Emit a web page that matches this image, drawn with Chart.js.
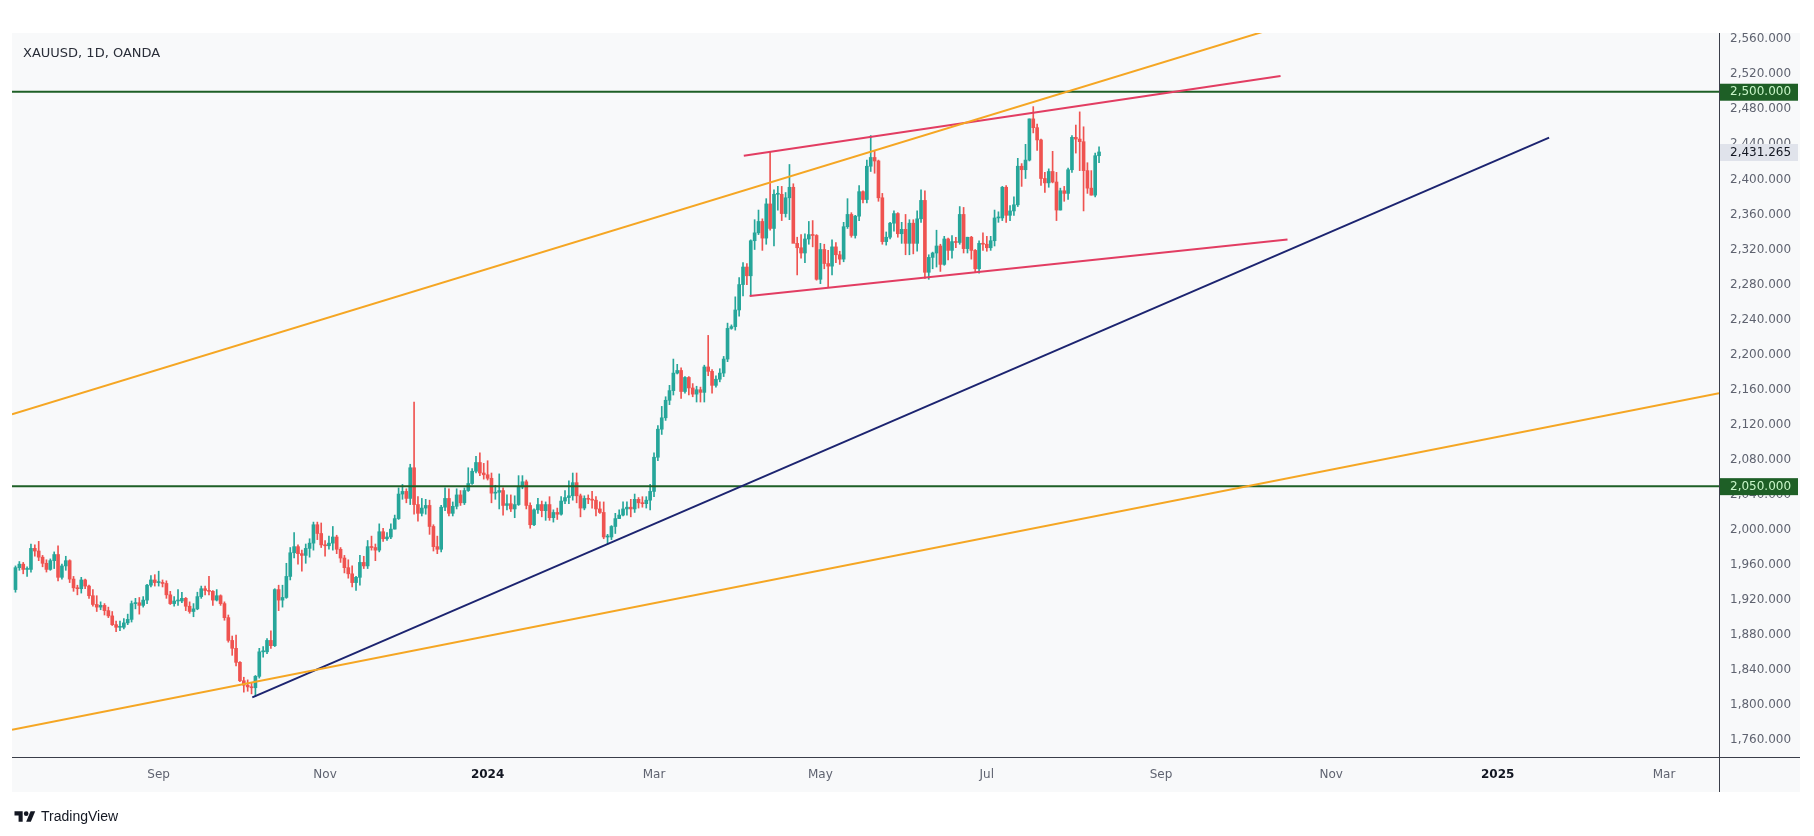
<!DOCTYPE html>
<html>
<head>
<meta charset="utf-8">
<title>XAUUSD 1D</title>
<script src="https://cdn.jsdelivr.net/npm/chart.js@4.4.1/dist/chart.umd.min.js"></script>
<style>
  html, body { margin: 0; padding: 0; background: #ffffff; }
  #page { position: relative; width: 1814px; height: 836px; overflow: hidden; }
  #panel { position: absolute; left: 12px; top: 33px; width: 1788px; height: 759px; background: #f8f9fa; }
  #chart { position: absolute; left: 0; top: 0; }
  #title { position: absolute; left: 23px; top: 45px; font: 13px 'DejaVu Sans', sans-serif; color: #2a2e39; line-height: 16px; }
  #logo { position: absolute; left: 14px; top: 806px; height: 20px; display: flex; align-items: center; font: 14px 'Liberation Sans', sans-serif; color: #131722; }
  #logo svg { margin-right: 5px; }
</style>
</head>
<body>
<div id="page">
  <div id="panel"></div>
  <canvas id="chart" width="1814" height="836"></canvas>
  <div id="title">XAUUSD, 1D, OANDA</div>
  <div id="logo">
    <svg width="22" height="14" viewBox="0 0 36 24"><path d="M14 22H7V11H0V4h14v18z" fill="#131722"/><circle cx="20" cy="8" r="4" fill="#131722"/><path d="M28 22h-8l7.5-18h8L28 22z" fill="#131722"/></svg>
    <span>TradingView</span>
  </div>
</div>
<script>
(function() {
    'use strict';

    // Daily bars, one per trading day, first bar = 12 Jul 2023, last = 9 Aug 2024
    const opens = [
        1932,1957,1961,1955,1955,1979,1976,1969,1962,1955,1965,1972,1946,1959,
        1965,1944,1934,1933,1943,1936,1925,1915,1912,1914,1908,1902,1892,1889,1889,1894,1898,1916,1917,1914,1920,1937,1943,
        1940,1940,1939,1926,1916,1919,1919,1922,1913,1907,1910,1924,1933,1931,1930,1920,1925,1916,1900,1874,1865,
        1849,1828,1823,1821,1820,1833,1861,1861,1874,1868,1932,1920,1923,1947,1974,1981,1973,1971,1979,1985,2006,1996,
        1983,1982,1985,1992,1978,1968,1957,1950,1940,1946,1963,1959,1981,1980,1977,1998,1990,1992,2001,2013,2041,2044,
        2036,2071,2029,2019,2025,2028,2004,1981,1978,2026,2036,2019,2027,2040,2031,2045,2053,2067,2077,2065,
        2063,2059,2042,2043,2045,2028,2030,2024,2029,2049,2055,2028,2006,2023,2029,2022,2029,2014,2020,2018,2033,2037,
        2039,2054,2039,2025,2036,2035,2034,2024,2020,1992,1992,2004,2013,2017,2024,2026,2024,2035,2031,2030,2034,
        2044,2083,2115,2128,2148,2159,2179,2182,2158,2174,2162,2155,2160,2157,2186,2181,2165,2172,2179,2195,2230,
        2232,2251,2280,2300,2290,2330,2339,2352,2333,2372,2344,2383,2383,2361,2379,2391,2327,2322,2316,2332,2337,2336,
        2286,2320,2304,2301,2323,2314,2309,2346,2360,2336,2358,2386,2377,2415,2425,2421,2379,2329,2334,2350,2361,2338,2343,
        2327,2350,2327,2355,2376,2294,2311,2316,2324,2303,2332,2319,2329,2328,2360,2321,2334,2319,2298,2327,
        2326,2322,2330,2356,2356,2391,2359,2364,2371,2415,2411,2422,2469,2459,2445,2401,2396,2409,2397,2365,2387,2384,2411,
        2448,2446,2443,2410,2390,2382,2427
    ];
    const highs = [
        1959,1964,1963,1958,1984,1983,1987,1971,1966,1967,1975,1982,1961,1970,
        1966,1947,1937,1946,1944,1937,1932,1925,1918,1916,1912,1907,1896,1896,1899,1904,1919,1922,1923,1924,1938,1948,1949,
        1953,1943,1942,1930,1924,1932,1929,1923,1918,1916,1929,1936,1936,1947,1931,1932,1926,1918,1903,1879,1880,
        1850,1832,1829,1826,1834,1865,1867,1876,1885,1933,1937,1937,1962,1980,1997,1983,1977,1984,1990,2009,2009,2008,
        1988,1993,2004,1994,1980,1971,1966,1959,1947,1971,1970,1988,1993,1984,2007,2002,1997,2007,2017,2048,2052,2047,
        2075,2146,2038,2036,2035,2034,2006,1993,2028,2048,2047,2032,2047,2045,2048,2071,2070,2084,2088,2076,
        2079,2065,2051,2064,2048,2040,2040,2039,2062,2062,2057,2031,2024,2036,2033,2032,2038,2023,2025,2038,2045,2056,
        2065,2065,2041,2039,2040,2044,2038,2032,2032,1995,2005,2019,2023,2032,2032,2035,2041,2037,2038,2038,2052,
        2088,2119,2141,2152,2165,2195,2189,2185,2175,2175,2167,2164,2163,2188,2222,2183,2176,2184,2198,2236,2234,
        2266,2288,2305,2304,2331,2354,2365,2355,2378,2431,2388,2392,2392,2385,2417,2395,2334,2337,2338,2352,2353,2337,
        2327,2326,2319,2331,2328,2318,2351,2378,2362,2359,2393,2387,2422,2450,2432,2422,2384,2340,2351,2364,2362,2351,2360,
        2354,2354,2364,2388,2387,2314,2317,2342,2326,2335,2333,2336,2334,2369,2368,2334,2335,2320,2330,2339,
        2335,2335,2365,2363,2392,2393,2370,2380,2424,2418,2440,2469,2483,2463,2446,2408,2412,2432,2408,2390,2392,2413,2450,
        2462,2477,2460,2419,2410,2430,2437
    ];
    const lows = [
        1929,1954,1950,1947,1952,1970,1965,1958,1952,1954,1956,1942,1944,1954,
        1940,1930,1926,1928,1933,1922,1913,1907,1909,1903,1900,1891,1884,1885,1887,1892,1895,1910,1904,1912,1916,1935,1936,
        1936,1935,1922,1915,1913,1914,1917,1908,1905,1901,1909,1922,1926,1926,1914,1919,1914,1897,1872,1857,1845,
        1827,1815,1816,1813,1810,1831,1855,1859,1865,1867,1908,1912,1922,1943,1968,1961,1953,1962,1969,1977,1989,1980,
        1970,1978,1977,1973,1963,1951,1945,1935,1931,1937,1956,1956,1977,1965,1975,1987,1988,1990,2001,2012,2035,2031,
        2029,2018,2010,2016,2018,1995,1976,1973,1975,2022,2016,2016,2024,2028,2029,2044,2052,2065,2062,2058,
        2057,2031,2035,2024,2017,2023,2021,2014,2028,2047,2024,2002,2005,2019,2015,2011,2011,2009,2012,2017,2030,2030,
        2034,2031,2015,2023,2030,2025,2016,2019,1990,1984,1989,1996,2013,2016,2017,2015,2020,2025,2026,2025,2023,
        2038,2079,2109,2125,2143,2154,2178,2150,2156,2154,2152,2146,2146,2146,2176,2156,2163,2169,2175,2192,2229,
        2228,2244,2267,2280,2267,2320,2337,2319,2326,2342,2324,2365,2353,2357,2354,2328,2291,2310,2305,2326,2323,2285,
        2281,2298,2277,2291,2305,2303,2306,2344,2334,2333,2353,2373,2373,2409,2407,2375,2326,2325,2332,2341,2334,2327,2314,
        2314,2315,2318,2351,2287,2286,2298,2300,2295,2302,2308,2310,2322,2326,2316,2316,2309,2294,2293,2319,
        2318,2319,2324,2351,2353,2351,2353,2359,2369,2392,2401,2421,2453,2433,2393,2385,2391,2396,2353,2365,2375,2377,2408,
        2430,2410,2364,2384,2382,2380,2419
    ];
    const closes = [
        1957,1961,1955,1955,1979,1976,1969,1962,1955,1965,1972,1946,1959,1965,
        1944,1934,1933,1943,1936,1925,1915,1912,1914,1908,1902,1892,1889,1889,1894,1898,1916,1917,1914,1920,1937,1943,1940,
        1940,1939,1926,1916,1919,1919,1922,1913,1907,1910,1924,1933,1931,1930,1920,1925,1916,1900,1874,1865,1849,
        1828,1823,1821,1820,1833,1861,1861,1874,1868,1932,1920,1923,1947,1974,1981,1973,1971,1979,1985,2006,1996,1983,
        1982,1985,1992,1978,1968,1957,1950,1940,1946,1963,1959,1981,1980,1977,1998,1990,1992,2001,2013,2041,2044,2036,
        2071,2029,2019,2025,2028,2004,1981,1978,2026,2036,2019,2027,2040,2031,2045,2053,2067,2077,2065,2063,
        2059,2042,2043,2045,2028,2030,2024,2029,2049,2055,2028,2006,2023,2029,2022,2029,2014,2020,2018,2033,2037,2039,
        2054,2039,2025,2036,2035,2034,2024,2020,1992,1992,2004,2013,2017,2024,2026,2024,2035,2031,2030,2034,2044,
        2083,2115,2128,2148,2159,2179,2182,2158,2174,2162,2155,2160,2157,2186,2181,2165,2172,2179,2195,2230,2232,
        2251,2280,2300,2290,2330,2339,2352,2333,2372,2344,2383,2383,2361,2379,2391,2327,2322,2316,2332,2337,2336,2286,
        2320,2304,2301,2323,2314,2309,2346,2360,2336,2358,2386,2377,2415,2425,2421,2379,2329,2334,2350,2361,2338,2343,2327,
        2350,2327,2355,2376,2294,2311,2316,2324,2303,2332,2319,2329,2328,2360,2321,2334,2319,2298,2327,2326,
        2322,2330,2356,2356,2391,2359,2364,2371,2415,2411,2422,2469,2459,2445,2401,2396,2409,2397,2365,2387,2384,2411,2448,
        2446,2443,2410,2390,2382,2427,2431.265
    ];

    // Time axis labels (bar index of the first bar of the month)
    const monthTickIdx = [37, 80, 122, 165, 208, 251, 296, 340, 383, 426];
    const monthTickLabels = ['Sep', 'Nov', '2024', 'Mar', 'May', 'Jul', 'Sep', 'Nov', '2025', 'Mar'];

    // Price axis labels
    const priceTicks = [1760, 1800, 1840, 1880, 1920, 1960, 2000, 2040, 2080, 2120, 2160, 2200,
                        2240, 2280, 2320, 2360, 2400, 2440, 2480, 2520, 2560];

    // Drawings: [bar index, price]
    const upperChannel = [[-0.9, 2132], [330, 2578.7]];
    const lowerChannel = [[-0.9, 1772], [440.2, 2156]];
    const supportLine = [[61.2, 1809], [396.3, 2447.6]];
    const wedgeTop = [[188.2, 2427], [326.9, 2518]];
    const wedgeBottom = [[189.7, 2267], [328.7, 2331.5]];
    const levels = [2500, 2050];
    const lastPrice = 2431.265;

    const UP = '#26a69a';
    const DOWN = '#ef5350';
    const X_MIN = -0.9, X_MAX = 440.2;

    function fmt(v, d) {
        return v.toLocaleString('en-US', { minimumFractionDigits: d, maximumFractionDigits: d });
    }

    function isYear(ctx) {
        if (!ctx || !ctx.tick) return false;
        const l = monthTickLabels[monthTickIdx.indexOf(ctx.tick.value)];
        return /^\d/.test(l || '');
    }

    function lineDs(pts, color, width) {
        return {
            type: 'line',
            data: pts.map(p => ({ x: p[0], y: p[1] })),
            borderColor: color,
            borderWidth: width,
            pointRadius: 0,
            tension: 0,
            fill: false,
            order: 0
        };
    }

    const candleColors = closes.map((c, i) => c >= opens[i] ? UP : DOWN);

    const datasets = [
        {
            type: 'bar',
            data: highs.map((h, i) => ({ x: i, y: [lows[i], h] })),
            backgroundColor: candleColors,
            barThickness: 1,
            grouped: false,
            order: 3
        },
        {
            type: 'bar',
            data: opens.map((o, i) => ({ x: i, y: [o, closes[i]] })),
            backgroundColor: candleColors,
            barThickness: 3,
            minBarLength: 1,
            grouped: false,
            order: 2
        },
        lineDs(upperChannel, '#f5a623', 2),
        lineDs(lowerChannel, '#f5a623', 2),
        lineDs(supportLine, '#1c2470', 2),
        lineDs(wedgeTop, '#e23d62', 2),
        lineDs(wedgeBottom, '#e23d62', 2)
    ];
    levels.forEach(function(lv) {
        datasets.push(lineDs([[X_MIN, lv], [X_MAX, lv]], '#1e5f26', 2));
    });

    // Frame lines and price labels on the axis
    const overlay = {
        id: 'overlay',
        afterDraw: function(chart) {
            const c = chart.ctx;
            const a = chart.chartArea;
            const y = chart.scales.y;
            c.save();
            c.fillStyle = '#3a3e49';
            c.fillRect(a.right, 33, 1, 759);
            c.fillRect(12, a.bottom, 1788, 1);

            const tags = levels.map(v => ({ v: v, bg: '#1e5f26', fg: '#c8f5c8' }));
            tags.push({ v: lastPrice, bg: '#e0e3eb', fg: '#131722' });
            c.font = "12px 'DejaVu Sans', sans-serif";
            c.textBaseline = 'middle';
            c.textAlign = 'left';
            tags.forEach(function(t) {
                const py = y.getPixelForValue(t.v);
                c.fillStyle = t.bg;
                c.fillRect(a.right + 1, py - 8, 78, 17);
                c.fillStyle = t.fg;
                c.fillText(fmt(t.v, 3), a.right + 11, py + 0.5);
            });
            c.restore();
        }
    };

    new Chart(document.getElementById('chart'), {
        type: 'bar',
        data: { datasets: datasets },
        options: {
            responsive: false,
            animation: false,
            layout: { padding: { left: 12, top: 33, right: 14, bottom: 44 } },
            plugins: { legend: { display: false }, tooltip: { enabled: false } },
            scales: {
                x: {
                    type: 'linear',
                    min: X_MIN,
                    max: X_MAX,
                    offset: false,
                    grid: { display: false, drawTicks: false },
                    border: { display: false },
                    afterFit: function(s) { s.height = 35; },
                    afterBuildTicks: function(s) {
                        s.ticks = monthTickIdx.map(v => ({ value: v }));
                    },
                    ticks: {
                        autoSkip: false,
                        maxRotation: 0,
                        padding: 11,
                        color: function(ctx) { return isYear(ctx) ? '#131722' : '#5f6370'; },
                        font: function(ctx) {
                            return { family: "'DejaVu Sans', sans-serif", size: 12, weight: isYear(ctx) ? 'bold' : 'normal' };
                        },
                        callback: function(v) {
                            return monthTickLabels[monthTickIdx.indexOf(v)];
                        }
                    }
                },
                y: {
                    position: 'right',
                    min: 1741,
                    max: 2567,
                    grid: { display: false, drawTicks: false },
                    border: { display: false },
                    afterFit: function(s) { s.width = 81; },
                    afterBuildTicks: function(s) {
                        s.ticks = priceTicks.map(v => ({ value: v }));
                    },
                    ticks: {
                        padding: 11,
                        color: '#5f6370',
                        font: { family: "'DejaVu Sans', sans-serif", size: 12 },
                        callback: function(v) { return fmt(v, 3); }
                    }
                }
            }
        },
        plugins: [overlay]
    });
})();
</script>
</body>
</html>
